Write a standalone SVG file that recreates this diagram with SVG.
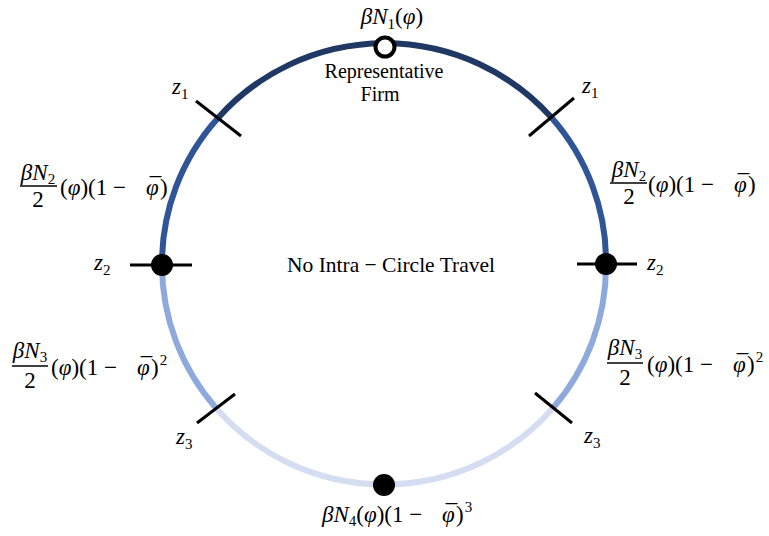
<svg xmlns="http://www.w3.org/2000/svg" width="769" height="536" viewBox="0 0 769 536">
<style>
text{font-family:"Liberation Serif","Times New Roman",serif;fill:#000}
.m{font-size:23px}
.i{font-style:italic}
.s{font-size:15px}
.t{font-size:20px}
.c{font-size:21.5px}
.arc{fill:none;stroke-width:6;stroke-linecap:butt}
.tick{stroke:#000;stroke-width:3}
.bar{stroke:#000;stroke-width:1.5}
</style>
<rect width="769" height="536" fill="#fff"/>
<g id="connectors">
<path id="arc-top" class="arc" stroke="#1F3864" d="M218,118 A222,219 0 0,1 551,117"/>
<path id="arc-right-upper" class="arc" stroke="#2F5597" d="M551,117 A222,219 0 0,1 606,265"/>
<path id="arc-right-lower" class="arc" stroke="#8EA9DB" d="M606,265 A222,219 0 0,1 553,408"/>
<path id="arc-bottom" class="arc" stroke="#D5DEF1" d="M553,408 A222,219 0 0,1 216,408"/>
<path id="arc-left-lower" class="arc" stroke="#8EA9DB" d="M216,408 A222,219 0 0,1 162,265"/>
<path id="arc-left-upper" class="arc" stroke="#2F5597" d="M162,265 A222,219 0 0,1 218,118"/>
</g>
<g id="z1-left"><line class="tick" x1="196" y1="101" x2="241" y2="136"/><text class="m" x="172" y="94"><tspan class="i">z</tspan><tspan class="s" dy="5">1</tspan></text></g>
<g id="z1-right"><line class="tick" x1="529" y1="136" x2="574" y2="98"/><text class="m" x="582" y="93"><tspan class="i">z</tspan><tspan class="s" dy="5">1</tspan></text></g>
<g id="z2-left"><line class="tick" x1="130" y1="265" x2="192" y2="265"/><circle cx="162" cy="265" r="11" fill="#000"/><text class="m" x="94" y="270"><tspan class="i">z</tspan><tspan class="s" dy="5">2</tspan></text></g>
<g id="z2-right"><line class="tick" x1="577" y1="264" x2="637" y2="264"/><circle cx="606" cy="264" r="11" fill="#000"/><text class="m" x="647" y="270"><tspan class="i">z</tspan><tspan class="s" dy="5">2</tspan></text></g>
<g id="z3-left"><line class="tick" x1="197" y1="423" x2="235" y2="394"/><text class="m" x="176" y="444"><tspan class="i">z</tspan><tspan class="s" dy="5">3</tspan></text></g>
<g id="z3-right"><line class="tick" x1="535" y1="393" x2="572" y2="423"/><text class="m" x="584" y="443"><tspan class="i">z</tspan><tspan class="s" dy="5">3</tspan></text></g>
<g id="firm">
<circle cx="385" cy="47" r="9.5" fill="#fff" stroke="#000" stroke-width="4"/>
<text class="m" x="392" y="24" text-anchor="middle"><tspan class="i">βN</tspan><tspan class="s" dy="5">1</tspan><tspan dy="-5">(</tspan><tspan class="i">φ</tspan>)</text>
<text class="t" x="384" y="78" text-anchor="middle">Representative</text>
<text class="t" x="380" y="101" text-anchor="middle">Firm</text>
</g>
<g id="label-n2-left">
<text class="m" x="38" y="180" text-anchor="middle"><tspan class="i">βN</tspan><tspan class="s" dy="4">2</tspan></text>
<line class="bar" x1="20" y1="186" x2="57" y2="186"/>
<text class="m" x="38" y="207" text-anchor="middle">2</text>
<text class="m" x="60" y="195">(<tspan class="i">φ</tspan>)(1 −<tspan class="i" x="146">φ</tspan><tspan dx="-9" dy="-1">¯</tspan><tspan x="160" dy="1">)</tspan></text>
</g>
<g id="label-n2-right">
<text class="m" x="629" y="177" text-anchor="middle"><tspan class="i">βN</tspan><tspan class="s" dy="4">2</tspan></text>
<line class="bar" x1="610" y1="183" x2="647" y2="183"/>
<text class="m" x="629" y="204" text-anchor="middle">2</text>
<text class="m" x="648" y="192">(<tspan class="i">φ</tspan>)(1 −<tspan class="i" x="734">φ</tspan><tspan dx="-9" dy="-1">¯</tspan><tspan x="748" dy="1">)</tspan></text>
</g>
<g id="label-n3-left">
<text class="m" x="30" y="358" text-anchor="middle"><tspan class="i">βN</tspan><tspan class="s" dy="4">3</tspan></text>
<line class="bar" x1="12" y1="366" x2="48" y2="366"/>
<text class="m" x="30" y="388" text-anchor="middle">2</text>
<text class="m" x="51" y="375">(<tspan class="i">φ</tspan>)(1 −<tspan class="i" x="137">φ</tspan><tspan dx="-9" dy="-1">¯</tspan><tspan x="151" dy="1">)</tspan><tspan class="s" dx="1" dy="-10">2</tspan></text>
</g>
<g id="label-n3-right">
<text class="m" x="625" y="355" text-anchor="middle"><tspan class="i">βN</tspan><tspan class="s" dy="4">3</tspan></text>
<line class="bar" x1="607" y1="363" x2="643" y2="363"/>
<text class="m" x="625" y="385" text-anchor="middle">2</text>
<text class="m" x="647" y="372">(<tspan class="i">φ</tspan>)(1 −<tspan class="i" x="733">φ</tspan><tspan dx="-9" dy="-1">¯</tspan><tspan x="747" dy="1">)</tspan><tspan class="s" dx="1" dy="-10">2</tspan></text>
</g>
<g id="bottom-node">
<circle cx="384" cy="485" r="11" fill="#000"/>
<text class="m" x="322" y="522"><tspan class="i">βN</tspan><tspan class="s" dy="4">4</tspan><tspan dy="-4">(</tspan><tspan class="i">φ</tspan>)(1 −<tspan class="i" x="442">φ</tspan><tspan dx="-9" dy="-1">¯</tspan><tspan x="456" dy="1">)</tspan><tspan class="s" dx="1" dy="-10">3</tspan></text>
</g>
<g id="center-label">
<text class="c" x="391" y="272" text-anchor="middle">No Intra − Circle Travel</text>
</g>
</svg>
